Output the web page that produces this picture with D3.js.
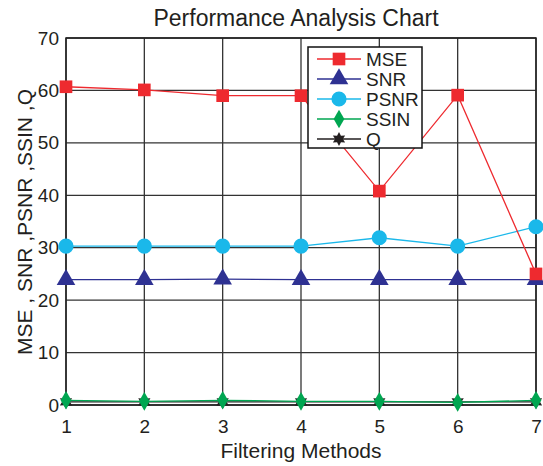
<!DOCTYPE html>
<html><head><meta charset="utf-8">
<script src="https://cdn.jsdelivr.net/npm/d3@7"></script>
<style>body{margin:0;background:#fff;} text{font-family:Arial,"Liberation Sans",sans-serif;fill:#231f20;}</style>
</head><body>
<svg id="c" width="543" height="466"></svg>
<script>
const methods = [1,2,3,4,5,6,7];
const mse  = [60.7,60.1,59.0,59.0,40.8,59.1,25.0];
const snr  = [23.9,23.9,24.0,23.9,23.9,23.9,23.9];
const psnr = [30.3,30.3,30.3,30.3,31.9,30.3,34.0];
const ssin = [0.9,0.7,0.9,0.7,0.7,0.5,0.9];
const q    = [0.6,0.6,0.6,0.6,0.6,0.6,0.6];
const yTicks = [0,10,20,30,40,50,60,70];
const seriesNames = ["MSE","SNR","PSNR","SSIN","Q"];

const series = [
  {name:"MSE", vals:mse, color:"#ee2a2f", sym:"square"},
  {name:"SNR", vals:snr, color:"#2e3192", sym:"triangle"},
  {name:"PSNR", vals:psnr, color:"#1ab8ea", sym:"circle"},
  {name:"SSIN", vals:ssin, color:"#00a651", sym:"diamond"},
  {name:"Q", vals:q, color:"#231f20", sym:"star"}
];

const svg = d3.select("#c");
const L=66,R=536,T=38,B=405;
const x = d3.scaleLinear().domain([1,7]).range([L,R]);
const y = d3.scaleLinear().domain([0,70]).range([B,T]);

// grid
svg.append("g").selectAll("line").data(methods).join("line")
  .attr("x1",d=>x(d)).attr("x2",d=>x(d)).attr("y1",T).attr("y2",B)
  .attr("stroke","#333").attr("stroke-width",1.3);
svg.append("g").selectAll("line").data(yTicks).join("line")
  .attr("x1",L).attr("x2",R).attr("y1",d=>y(d)).attr("y2",d=>y(d))
  .attr("stroke","#333").attr("stroke-width",1.3);
svg.append("rect").attr("x",L).attr("y",T).attr("width",R-L).attr("height",B-T)
  .attr("fill","none").attr("stroke","#222").attr("stroke-width",1.5);

// axes
const xa = svg.append("g").attr("transform",`translate(0,${B})`)
  .call(d3.axisBottom(x).tickValues(methods).tickFormat(d3.format("d")).tickSize(0).tickPadding(15));
xa.select(".domain").remove();
xa.selectAll("text").style("font-size","19px").attr("fill","#231f20");
const ya = svg.append("g").attr("transform",`translate(${L},0)`)
  .call(d3.axisLeft(y).tickValues(yTicks).tickSize(0).tickPadding(7));
ya.select(".domain").remove();
ya.selectAll("text").style("font-size","19px").attr("fill","#231f20");

svg.append("text").attr("x",296).attr("y",26).attr("text-anchor","middle")
  .style("font-size","23px").text("Performance Analysis Chart");
svg.append("text").attr("x",301).attr("y",458).attr("text-anchor","middle")
  .style("font-size","21px").text("Filtering Methods");
svg.append("text").attr("transform","translate(32,222) rotate(-90)").attr("text-anchor","middle")
  .style("font-size","21px").text("MSE , SNR ,PSNR ,SSIN ,Q");

const hexStar = {
  draw(ctx, size){
    const r = Math.sqrt(size/2.2), ri = r*0.55;
    for(let k=0;k<12;k++){
      const a = k*Math.PI/6 - Math.PI/2;
      const rr = k%2===0 ? r : ri;
      const px = rr*Math.cos(a), py = rr*Math.sin(a);
      if(k===0) ctx.moveTo(px,py); else ctx.lineTo(px,py);
    }
    ctx.closePath();
  }
};
const symMap = {square:d3.symbolSquare, triangle:d3.symbolTriangle, circle:d3.symbolCircle, diamond:d3.symbolDiamond, star:hexStar};
const sizeMap = {square:160, triangle:150, circle:180, diamond:100, star:110};
const line = d3.line().x((d,i)=>x(methods[i])).y(d=>y(d));

// draw in reverse so MSE on top
[...series].reverse().forEach(s=>{
  const g = svg.append("g");
  g.append("path").datum(s.vals).attr("d",line).attr("fill","none")
    .attr("stroke",s.color).attr("stroke-width",1.3);
  g.selectAll("path.m").data(s.vals).join("path").attr("class","m")
    .attr("transform",(d,i)=>`translate(${x(methods[i])},${y(d)})`)
    .attr("d",d3.symbol().type(symMap[s.sym]).size(sizeMap[s.sym]))
    .attr("fill",s.color);
});

// legend
const lg = svg.append("g");
lg.append("rect").attr("x",308).attr("y",47).attr("width",114).attr("height",101)
  .attr("fill","#fff").attr("stroke","#111").attr("stroke-width",1.5);
series.forEach((s,i)=>{
  const yy = 59 + i*20;
  lg.append("line").attr("x1",317).attr("x2",361).attr("y1",yy).attr("y2",yy)
    .attr("stroke",s.color).attr("stroke-width",1.3);
  lg.append("path").attr("transform",`translate(339,${yy})`)
    .attr("d",d3.symbol().type(symMap[s.sym]).size(sizeMap[s.sym])).attr("fill",s.color);
  lg.append("text").attr("x",366).attr("y",yy+7).style("font-size","19px").text(seriesNames[i]);
});
</script>
</body></html>
